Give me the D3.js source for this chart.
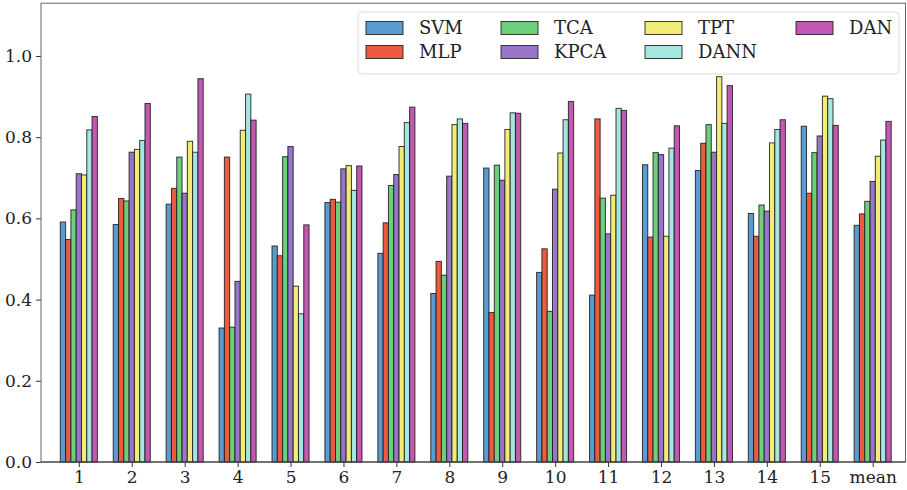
<!DOCTYPE html>
<html>
<head>
<meta charset="utf-8">
<script src="https://cdn.jsdelivr.net/npm/d3@7"></script>
<style>
  body { margin: 0; background: #fff; }
  text { font-family: "DejaVu Serif", serif; }
</style>
</head>
<body>
<svg width="907" height="490"></svg>
<script>
let categories = ["1", "2", "3", "4", "5", "6", "7", "8", "9", "10", "11", "12", "13", "14", "15", "mean"];
let methods = ["SVM", "MLP", "TCA", "KPCA", "TPT", "DANN", "DAN"];
let colors = ["#5a9bd0", "#ee5a40", "#6dcf7c", "#9775c9", "#f2ec76", "#a6e6e0", "#c258b2"];

let svmValues  = [0.591, 0.585, 0.635, 0.330, 0.532, 0.639, 0.514, 0.415, 0.724, 0.467, 0.411, 0.732, 0.718, 0.612, 0.827, 0.583];
let mlpValues  = [0.548, 0.649, 0.674, 0.751, 0.508, 0.647, 0.589, 0.494, 0.368, 0.525, 0.845, 0.554, 0.785, 0.556, 0.662, 0.611];
let tcaValues  = [0.621, 0.643, 0.751, 0.332, 0.752, 0.640, 0.681, 0.460, 0.731, 0.371, 0.650, 0.762, 0.831, 0.633, 0.762, 0.642];
let kpcaValues = [0.710, 0.763, 0.662, 0.445, 0.777, 0.722, 0.708, 0.704, 0.694, 0.672, 0.562, 0.757, 0.763, 0.618, 0.803, 0.691];
let tptValues  = [0.707, 0.770, 0.790, 0.817, 0.433, 0.730, 0.777, 0.831, 0.819, 0.761, 0.657, 0.556, 0.949, 0.786, 0.901, 0.753];
let dannValues = [0.818, 0.792, 0.763, 0.906, 0.365, 0.669, 0.836, 0.845, 0.860, 0.843, 0.871, 0.773, 0.834, 0.819, 0.895, 0.793];
let danValues  = [0.851, 0.883, 0.944, 0.842, 0.584, 0.729, 0.874, 0.834, 0.859, 0.888, 0.866, 0.828, 0.927, 0.843, 0.829, 0.839];

let series = [svmValues, mlpValues, tcaValues, kpcaValues, tptValues, dannValues, danValues];
let yTicks = [0, 0.2, 0.4, 0.6, 0.8, 1.0];

let svg = d3.select("svg");
let plotLeft = 41, plotRight = 905.5, plotTop = 3.2, plotBottom = 462;
let barW = 0.1;

let x = d3.scaleLinear().domain([-0.715, 15.62]).range([plotLeft, plotRight]);
let y = d3.scaleLinear().domain([0, 1.13]).range([plotBottom, plotTop]);

// bars
let rows = [];
series.forEach((vals, s) => {
    vals.forEach((v, i) => rows.push({ s: s, i: i, v: v }));
});

svg.append("g")
    .selectAll("rect")
    .data(rows)
    .enter()
    .append("rect")
    .attr("x", (d) => x(d.i + (d.s - 3) * barW - barW / 2))
    .attr("width", (d) => x(barW) - x(0))
    .attr("y", (d) => y(d.v))
    .attr("height", (d) => y(0) - y(d.v))
    .attr("fill", (d) => colors[d.s])
    .attr("stroke", "#1a1a1a")
    .attr("stroke-opacity", 0.85)
    .attr("stroke-width", 1);

// axes
let xAxis = d3.axisBottom(x)
    .tickValues(d3.range(categories.length))
    .tickFormat((d) => categories[d])
    .tickSizeOuter(0)
    .tickSize(5)
    .tickPadding(4);
let yAxis = d3.axisLeft(y)
    .tickValues(yTicks)
    .tickFormat(d3.format(".1f"))
    .tickSizeOuter(0)
    .tickSize(5)
    .tickPadding(4);

let gx = svg.append("g").attr("transform", `translate(0,${plotBottom})`).call(xAxis);
let gy = svg.append("g").attr("transform", `translate(${plotLeft},0)`).call(yAxis);
[gx, gy].forEach((g) => {
    g.select(".domain").remove();
    g.selectAll(".tick line").attr("stroke", "#333");
    g.selectAll(".tick text").attr("font-size", 17).attr("fill", "#222")
        .style("font-family", "'DejaVu Serif', serif");
});

// frame
svg.append("rect")
    .attr("x", plotLeft).attr("y", plotTop)
    .attr("width", plotRight - plotLeft).attr("height", plotBottom - plotTop)
    .attr("fill", "none")
    .attr("stroke", "#666")
    .attr("stroke-width", 1);
svg.append("line")
    .attr("x1", plotLeft).attr("x2", plotRight)
    .attr("y1", plotBottom).attr("y2", plotBottom)
    .attr("stroke", "#333");

// legend
let legend = svg.append("g");
legend.append("rect")
    .attr("x", 358).attr("y", 12)
    .attr("width", 541).attr("height", 62)
    .attr("rx", 4)
    .attr("fill", "#fff").attr("fill-opacity", 0.85)
    .attr("stroke", "#ddd");

let colX = [366, 501, 645, 796];
let rowY = [28, 52];
methods.forEach((m, k) => {
    let cx = colX[Math.floor(k / 2)];
    let cy = rowY[k % 2];
    legend.append("rect")
        .attr("x", cx).attr("y", cy - 6.5)
        .attr("width", 37).attr("height", 13)
        .attr("fill", colors[k])
        .attr("stroke", "#1a1a1a").attr("stroke-opacity", 0.85);
    legend.append("text")
        .attr("x", cx + 53).attr("y", cy)
        .attr("dy", "0.35em")
        .attr("font-size", 18)
        .attr("fill", "#222")
        .text(m);
});
</script>
</body>
</html>
